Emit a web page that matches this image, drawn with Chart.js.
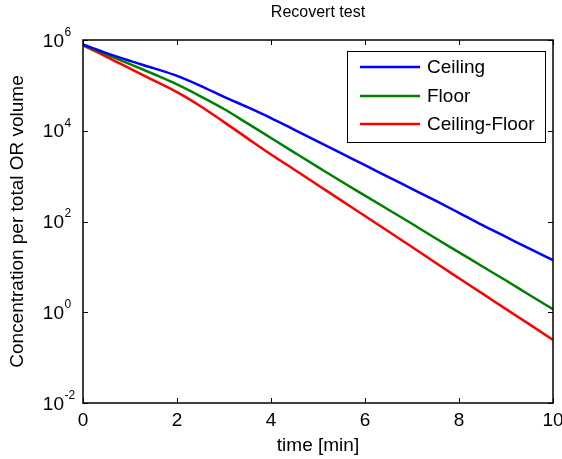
<!DOCTYPE html>
<html><head><meta charset="utf-8">
<script src="https://cdn.jsdelivr.net/npm/chart.js@4/dist/chart.umd.min.js"></script>
<style>html,body{margin:0;padding:0;background:#fff;}#wrap{width:562px;height:459px;}</style>
</head><body><div id="wrap"><canvas id="c" width="562" height="459"></canvas></div>
<script>
// ---- data ----
const times = [0,0.5,1,1.5,2,2.5,3,3.5,4,4.5,5,5.5,6,6.5,7,7.5,8,8.5,9,9.5,10];
const ceiling = [7.94e5,5.13e5,3.47e5,2.4e5,1.62e5,9.8e4,5.6e4,3.3e4,1.9e4,1.05e4,5.75e3,3.16e3,1.74e3,955,525,288,155,83,45.7,25.1,14.1];
const floorSeries = [7.76e5,4.79e5,2.95e5,1.78e5,1.05e5,5.75e4,3.02e4,1.45e4,6.9e3,3.3e3,1.58e3,759,372,182,89,42.7,20.9,10.2,5.0,2.4,1.17];
const ceilingFloor = [7.59e5,4.27e5,2.34e5,1.29e5,7.1e4,3.47e4,1.55e4,6.8e3,3.0e3,1.38e3,631,288,132,60,27.5,12.3,5.6,2.57,1.17,0.54,0.245];
const seriesNames = ['Ceiling','Floor','Ceiling-Floor'];
const xTicks = [0,2,4,6,8,10];
const yTickValues = [1e-2,1,1e2,1e4,1e6];
const yTickBase = '10';
const yTickExponents = ['-2','0','2','4','6'];
const chartTitle = 'Recovert test';
const xTitle = 'time [min]';
const yTitle = 'Concentration per total OR volume';

const FONT = '"Liberation Sans", Arial, Helvetica, sans-serif';
const toPts = arr => arr.map((v,i)=>({x: times[i], y: v}));

const decor = {
  id: 'decor',
  afterDraw(chart) {
    const ctx = chart.ctx, a = chart.chartArea;
    const xs = chart.scales.x, ys = chart.scales.y;
    ctx.save();
    // frame
    ctx.strokeStyle = '#000';
    ctx.lineWidth = 1.5;
    ctx.strokeRect(a.left, a.top, a.right - a.left, a.bottom - a.top);
    // inward ticks
    ctx.lineWidth = 1;
    ctx.beginPath();
    xTicks.forEach(t => {
      const px = Math.round(xs.getPixelForValue(t)) + 0.5;
      ctx.moveTo(px, a.bottom); ctx.lineTo(px, a.bottom - 5);
      ctx.moveTo(px, a.top); ctx.lineTo(px, a.top + 5);
    });
    yTickValues.forEach(v => {
      const py = Math.round(ys.getPixelForValue(v)) + 0.5;
      ctx.moveTo(a.left, py); ctx.lineTo(a.left + 5, py);
      ctx.moveTo(a.right, py); ctx.lineTo(a.right - 5, py);
    });
    ctx.stroke();
    // y tick labels with superscript exponents
    ctx.fillStyle = '#000';
    ctx.textBaseline = 'middle';
    yTickValues.forEach((v, i) => {
      const py = ys.getPixelForValue(v);
      ctx.font = '19px ' + FONT;
      ctx.textAlign = 'right';
      ctx.fillText(yTickBase, 64, py + 1.5);
      ctx.font = '12px ' + FONT;
      ctx.textAlign = 'left';
      ctx.fillText(yTickExponents[i], 64.5, py - 7.5);
    });
    // title
    ctx.font = '16px ' + FONT;
    ctx.textAlign = 'center';
    ctx.fillText(chartTitle, (a.left + a.right) / 2, 13);
    // legend
    const bx = 347, by = 51, bw = 198, bh = 91;
    ctx.fillStyle = '#fff';
    ctx.fillRect(bx, by, bw, bh);
    ctx.strokeStyle = '#000';
    ctx.lineWidth = 1;
    ctx.strokeRect(bx + 0.5, by + 0.5, bw, bh);
    const rows = [67, 96, 124];
    chart.data.datasets.forEach((ds, i) => {
      ctx.strokeStyle = ds.borderColor;
      ctx.lineWidth = 2.5;
      ctx.beginPath();
      ctx.moveTo(360, rows[i]); ctx.lineTo(420, rows[i]);
      ctx.stroke();
      ctx.fillStyle = '#000';
      ctx.font = '19px ' + FONT;
      ctx.textAlign = 'left';
      ctx.textBaseline = 'middle';
      ctx.fillText(ds.label, 427, rows[i] + 1);
    });
    ctx.restore();
  }
};

new Chart(document.getElementById('c'), {
  type: 'line',
  data: {
    datasets: [
      {label: seriesNames[0], data: toPts(ceiling), borderColor: '#0000ff'},
      {label: seriesNames[1], data: toPts(floorSeries), borderColor: '#008000'},
      {label: seriesNames[2], data: toPts(ceilingFloor), borderColor: '#ff0000'}
    ]
  },
  options: {
    responsive: false,
    devicePixelRatio: 1,
    animation: false,
    datasets: {line: {borderWidth: 2.5, pointRadius: 0, cubicInterpolationMode: 'monotone', fill: false}},
    layout: {padding: {top: 40, right: 9, left: 0, bottom: 0}},
    plugins: {legend: {display: false}, tooltip: {enabled: false}, title: {display: false}},
    scales: {
      x: {
        type: 'linear', min: 0, max: 10,
        grid: {display: false, drawTicks: false},
        border: {display: false},
        ticks: {stepSize: 2, color: '#000', font: {family: FONT, size: 19}, padding: 6, maxRotation: 0, autoSkip: false},
        title: {display: true, text: xTitle, color: '#000', font: {family: FONT, size: 19}, padding: {top: 0, bottom: 2}},
        afterFit(s) { s.height = 56; s.paddingLeft = 0; s.paddingRight = 0; }
      },
      y: {
        type: 'logarithmic', min: 1e-2, max: 1e6,
        grid: {display: false, drawTicks: false},
        border: {display: false},
        ticks: {display: false},
        title: {display: true, text: yTitle, color: '#000', font: {family: FONT, size: 19}, padding: {top: 6, bottom: 0}},
        afterFit(s) { s.width = 83; s.paddingTop = 0; s.paddingBottom = 0; }
      }
    }
  },
  plugins: [decor]
});
</script></body></html>
